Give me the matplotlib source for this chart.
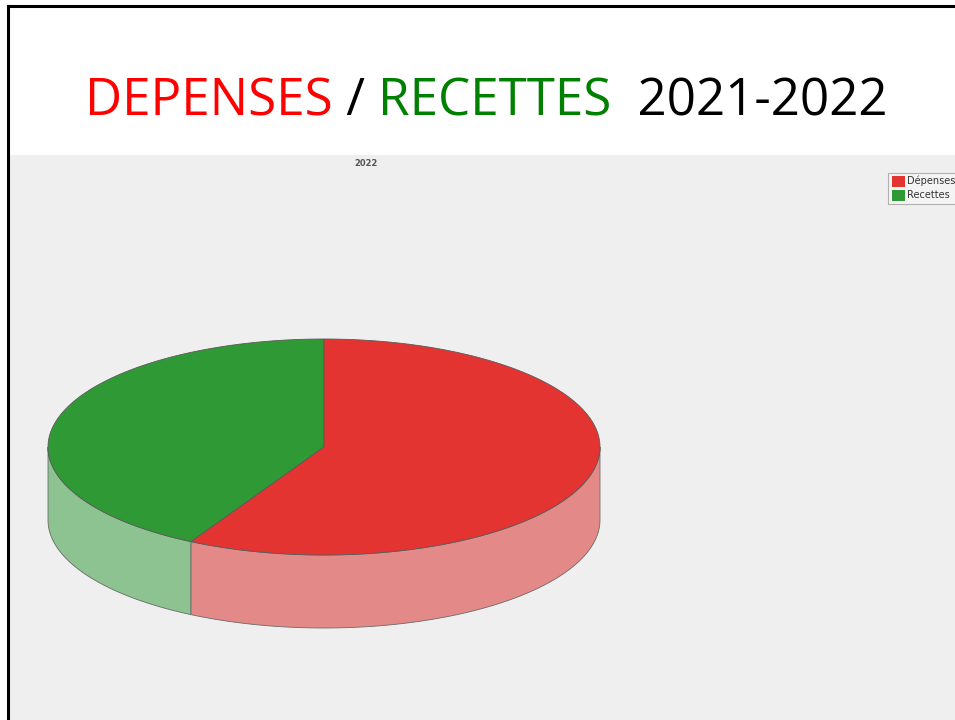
import numpy as np
import matplotlib.pyplot as plt
from matplotlib.patches import Polygon, Rectangle

labels = ["Dépenses", "Recettes"]
values = [58, 42]
top_colors = ["#e43431", "#2f9a35"]
side_colors = ["#e38a89", "#8cc390"]

fig = plt.figure(figsize=(9.55, 7.2), dpi=100)
ax = fig.add_axes([0, 0, 1, 1])
ax.set_xlim(0, 955)
ax.set_ylim(720, 0)
ax.axis("off")

# slide frame + grey chart area
ax.add_patch(Rectangle((10, 155), 960, 580, facecolor="#efefef", edgecolor="none"))
ax.plot([8, 8], [6, 725], color="black", lw=2.2)
ax.plot([8, 960], [6, 6], color="black", lw=2.2)

# title
fnt = dict(fontsize=36.8, family="Open Sans", va="baseline")
x = 85
for txt, col in [("DEPENSES", "red"), (" / ", "black"), ("RECETTES", "green"), ("  2021-2022", "black")]:
    t = ax.text(x, 115, txt, color=col, **fnt)
    fig.canvas.draw()
    bb = t.get_window_extent()
    x += bb.width
ax.text(366, 163, "2022", fontsize=6, color="#555555", ha="center", va="center", fontweight="bold")

# 3d pie
cx, cy, rx, ry, depth = 324, 447, 276, 108, 73
fr = np.array(values) / sum(values)
# Recettes first from 12 o'clock, counterclockwise
order = [1, 0]
start = 90.0
wedges = []
for i in order:
    span = fr[i] * 360
    wedges.append((i, start, start + span))
    start += span

def pt(t, dy=0):
    r = np.radians(t)
    return cx + rx * np.cos(r), cy - ry * np.sin(r) + dy

# sides (front half only: 180..360)
for i, a0, a1 in wedges:
    for off in (0, 360):
        s0, s1 = max(a0, 180 + off), min(a1, 360 + off)
        if s1 <= s0:
            continue
        ts = np.linspace(s0, s1, 80)
        topp = [pt(t) for t in ts]
        botp = [pt(t, depth) for t in ts[::-1]]
        ax.add_patch(Polygon(topp + botp, closed=True, facecolor=side_colors[i],
                             edgecolor="#6a6a6a", lw=0.6))

# top faces
for i, a0, a1 in wedges:
    ts = np.linspace(a0, a1, 200)
    pts = [(cx, cy)] + [pt(t) for t in ts]
    ax.add_patch(Polygon(pts, closed=True, facecolor=top_colors[i],
                         edgecolor="#5a5a5a", lw=0.6))

# legend
ax.add_patch(Rectangle((888, 173), 80, 31, facecolor="#f4f4f4", edgecolor="#b0b0b0", lw=0.8))
for k, i in enumerate([0, 1]):
    yy = 181 + k * 14
    ax.add_patch(Rectangle((892, yy - 5), 13, 11, facecolor=top_colors[i], edgecolor="none"))
    ax.text(907, yy, labels[i], fontsize=7, color="#333333", va="center")

fig.savefig("out.png", dpi=100)
